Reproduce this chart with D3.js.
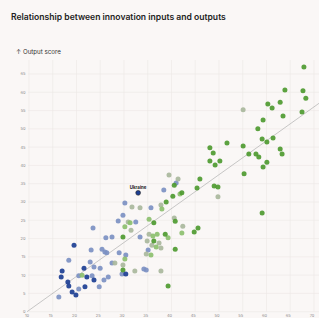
<!DOCTYPE html>
<html lang="en">
<head>
<meta charset="UTF-8">
<title>Relationship between innovation inputs and outputs</title>
<style>
  html, body { margin: 0; padding: 0; background: #faf7f6; }
  svg { display: block; font-family: Inter, "Liberation Sans", sans-serif; }
</style>
</head>
<body>
<div id="chart"></div>
<script src="https://d3js.org/d3.v7.min.js"></script>
<script>
// input score (x), output score (y) per group
const groups = ["Group A", "Group B", "Group C", "Group D", "Group E"];
const groupColors = ["#7c90c2", "#a9b79c", "#8cbf6e", "#4e9a30", "#1c3e92"];

const groupA = [[16.7,4.0],[18.8,14.1],[20.9,6.2],[20.9,9.8],[23.3,13.6],[23.5,16.9],[23.9,22.9],
  [23.7,9.8],[24.1,12.2],[25.2,6.8],[25.4,11.9],[25.8,17.1],[26.2,8.7],[26.4,16.3],[26.6,20.2],
  [26.8,16.1],[27.1,9.5],[27.9,20.4],[27.9,13.3],[29.2,24.8],[29.4,16.1],[30.0,10.3],[30.2,26.4],
  [30.6,29.7],[36.1,28.4],[32.9,24.5],[33.8,20.4],[35.5,16.9],[30.8,15.5],[34.6,11.7],[35.1,11.4],
  [38.8,33.3],[41.4,35.2]];
const groupB = [[28.5,13.3],[32.1,28.6],[33.8,28.4],[31.3,24.5],[31.9,22.3],[35.3,19.3],[35.7,21.2],
  [37.8,18.8],[41.0,25.6],[42.8,23.4],[36.3,18.2],[38.2,17.4],[35.1,15.8],[30.2,12.8],[32.7,11.1],
  [38.2,11.1],[39.9,37.4],[41.8,36.3],[38.2,29.2],[50.2,31.4],[55.5,55.2]];
const groupC = [[21.6,10.0],[31.7,24.3],[30.6,23.2],[35.7,25.3],[36.5,20.7],[37.4,21.2],[39.7,20.2],
  [42.6,21.5],[37.2,17.7],[36.1,15.5],[30.6,14.4],[42.2,32.2],[38.4,28.1]];
const groupD = [[30.2,20.4],[36.7,24.3],[36.7,19.3],[39.1,21.2],[41.2,24.7],[45.2,21.8],[46.0,22.9],
  [41.2,17.1],[30.2,11.4],[39.7,7.0],[41.0,34.6],[42.6,32.5],[40.7,31.6],[39.3,30.0],[46.4,36.3],
  [45.8,33.8],[49.4,34.4],[50.2,34.1],[55.7,37.7],[59.5,27.0],[68.3,66.9],[64.3,60.6],[68.1,60.4],
  [68.7,58.4],[63.3,57.3],[60.7,56.8],[61.6,55.7],[67.9,54.6],[63.9,53.5],[59.7,52.4],[58.6,50.0],
  [59.5,47.2],[60.5,46.4],[61.8,47.5],[52.1,46.1],[55.5,45.3],[48.5,44.8],[49.2,43.4],[56.7,43.1],
  [58.2,43.1],[58.8,42.3],[63.3,44.5],[63.7,43.1],[48.5,41.2],[49.6,40.1],[50.6,41.2],[60.5,40.9],
  [59.7,39.6]];
const groupE = [[17.4,11.1],[17.2,9.5],[19.9,18.2],[18.6,8.1],[18.8,7.0],[19.5,5.4],[20.3,4.6],
  [22.2,6.8],[22.0,11.9],[22.6,9.5],[24.1,8.7],[30.8,10.3]];

const highlight = { name: "Ukraine", x: 33.4, y: 32.5 };
const trend = { slope: 0.927, intercept: -9.27 };   // fitted line

const xTicks = [10, 15, 20, 25, 30, 35, 40, 45, 50, 55, 60, 65, 70];
const yTicks = [0, 5, 10, 15, 20, 25, 30, 35, 40, 45, 50, 55, 60, 65];

const width = 319, height = 318;

const svg = d3.select("#chart").append("svg")
    .attr("width", width)
    .attr("height", height);

const x = d3.scaleLinear().domain([10, 70]).range([27, 312]);
const y = d3.scaleLinear().domain([0, 65]).range([311.7, 74]);

// grid
svg.append("g").selectAll("line.h").data(yTicks).join("line")
    .attr("x1", 28).attr("x2", width)
    .attr("y1", d => y(d)).attr("y2", d => y(d))
    .attr("stroke", "#ece8e6").attr("stroke-width", 0.6);
svg.append("g").selectAll("line.v").data(xTicks).join("line")
    .attr("x1", d => x(d) + 2).attr("x2", d => x(d) + 2)
    .attr("y1", 60).attr("y2", y(0))
    .attr("stroke", "#ece8e6").attr("stroke-width", 0.6);

// tick labels
svg.append("g").selectAll("text").data(yTicks).join("text")
    .attr("x", 25.5).attr("y", d => y(d) + 1.4)
    .attr("text-anchor", "end")
    .attr("font-size", 4).attr("fill", "#8a8a8a")
    .text(d => d);
svg.append("g").selectAll("text").data(xTicks).join("text")
    .attr("x", d => x(d)).attr("y", 317)
    .attr("text-anchor", "middle")
    .attr("font-size", 4).attr("fill", "#8a8a8a")
    .text(d => d);

// trend line
const x0 = 10, x1 = 74;
svg.append("line")
    .attr("x1", x(x0)).attr("y1", y(trend.slope * x0 + trend.intercept))
    .attr("x2", x(x1)).attr("y2", y(trend.slope * x1 + trend.intercept))
    .attr("stroke", "#b0b0b0").attr("stroke-width", 0.7);

// points
const series = [groupA, groupB, groupC, groupD, groupE];
series.forEach(function(pts, i) {
    svg.append("g").selectAll("circle").data(pts).join("circle")
        .attr("cx", d => x(d[0]))
        .attr("cy", d => y(d[1]))
        .attr("r", 2.5)
        .attr("fill", groupColors[i])
        .attr("opacity", 0.92);
});

// highlighted country
svg.append("circle")
    .attr("cx", x(highlight.x)).attr("cy", y(highlight.y))
    .attr("r", 2.4)
    .attr("fill", "#1c3e92")
    .attr("stroke", "#222").attr("stroke-width", 0.6);
svg.append("text")
    .attr("x", x(highlight.x)).attr("y", y(highlight.y) - 3.7)
    .attr("text-anchor", "middle")
    .attr("font-size", 4.4).attr("font-weight", 700).attr("fill", "#222")
    .text(highlight.name);

// titles
svg.append("text")
    .attr("x", 11).attr("y", 19.5)
    .attr("font-size", 8.6).attr("font-weight", 600).attr("fill", "#222")
    .text("Relationship between innovation inputs and outputs");
svg.append("text")
    .attr("x", 16).attr("y", 54)
    .attr("font-size", 6.2).attr("fill", "#333")
    .text("↑ Output score");
</script>
</body>
</html>
